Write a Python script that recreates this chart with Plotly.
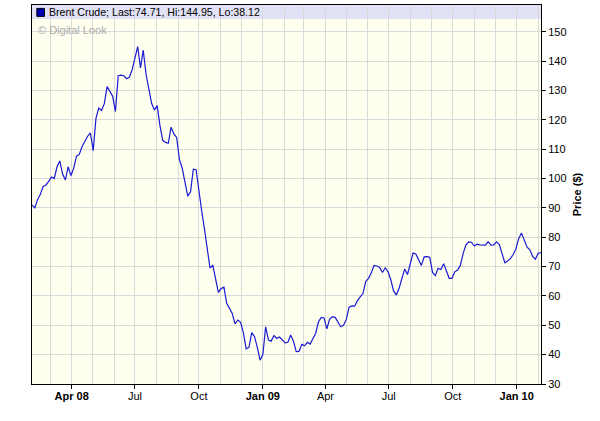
import pandas as pd
import plotly.graph_objects as go

# Brent crude price, sampled every 4 days from 4 Feb 2008
start_date = "2008-02-04"
step = "4D"
prices = [
    91.0, 90.0, 92.8, 94.6, 97.3, 97.8, 99.0, 100.5, 100.0, 104.0,
    106.0, 101.5, 99.5, 104.0, 101.0, 103.5, 107.6, 108.2, 110.9, 112.8,
    114.4, 115.5, 109.5, 120.5, 124.0, 123.2, 125.5, 131.3, 129.5, 128.0,
    122.8, 135.0, 135.2, 135.0, 134.0, 134.5, 137.0, 141.0, 144.9, 137.7,
    143.7, 135.5, 130.0, 125.6, 123.3, 124.8, 118.0, 113.0, 112.3, 112.0,
    117.5, 115.2, 114.0, 106.5, 103.5, 98.3, 94.0, 95.5, 103.2, 103.0,
    95.5, 89.0, 82.8, 76.3, 69.5, 70.5, 66.4, 61.2, 62.5, 63.0,
    57.5, 55.5, 54.0, 50.5, 51.8, 51.0, 47.4, 42.0, 42.5, 47.5,
    46.2, 42.5, 38.1, 40.0, 49.5, 45.0, 44.6, 46.5, 45.5, 46.0,
    44.8, 44.0, 44.2, 46.7, 44.6, 41.0, 41.1, 43.5, 43.0, 44.2,
    43.6, 45.6, 47.3, 51.2, 52.7, 52.5, 48.8, 52.1, 52.9, 52.7,
    51.0, 49.5, 50.0, 52.0, 56.2, 56.6, 56.5, 58.4, 59.7, 60.8,
    65.0, 66.0, 67.9, 70.4, 70.2, 69.7, 68.0, 69.6, 68.2, 65.5,
    61.7, 60.3, 62.7, 65.6, 69.2, 67.3, 71.5, 74.6, 74.3, 72.1,
    70.4, 73.3, 73.4, 73.2, 68.0, 66.9, 69.4, 69.0, 71.0, 68.5,
    66.0, 66.0, 68.2, 68.8, 70.4, 74.4, 77.3, 78.4, 78.3, 77.0,
    77.6, 77.4, 77.4, 77.3, 78.5, 77.3, 77.4, 78.4, 77.5, 74.0,
    71.3, 71.9, 72.7, 74.1, 76.1, 79.6, 81.4, 79.0, 76.6, 75.7,
    73.5, 72.5, 74.6, 74.71,
]
dates = pd.date_range(start_date, periods=len(prices), freq=step)

tick_dates = ["2008-04-01", "2008-07-01", "2008-10-01", "2009-01-01",
              "2009-04-01", "2009-07-01", "2009-10-01", "2010-01-01"]
tick_labels = ["<b>Apr 08</b>", "Jul", "Oct", "<b>Jan 09</b>",
               "Apr", "Jul", "Oct", "<b>Jan 10</b>"]
y_ticks = list(range(30, 160, 10))

series_name = "Brent Crude"
last_v, hi_v, lo_v = "74.71", "144.95", "38.12"

FONT = "Liberation Sans, Arial, sans-serif"
GRID = "#d9d9d9"

fig = go.Figure()
fig.add_trace(go.Scatter(
    x=dates, y=prices, mode="lines",
    line=dict(color="#1a1ad2", width=1.2),
    name=series_name, showlegend=False,
))

fig.update_layout(
    width=600, height=421, autosize=False,
    margin=dict(l=32, r=59, t=5, b=37),
    paper_bgcolor="white", plot_bgcolor="#fffff0",
    font=dict(family=FONT, size=11, color="#000"),
    showlegend=False,
)

fig.update_xaxes(
    type="date",
    range=[dates[0], dates[-1]],
    tickvals=tick_dates, ticktext=tick_labels,
    ticks="outside", ticklen=4, tickcolor="#000",
    ticklabelstandoff=-2,
    showline=True, linecolor="#000", linewidth=1, mirror=True,
    showgrid=True, gridcolor=GRID, gridwidth=1,
    minor=dict(dtick="M1", tick0="2008-01-01", showgrid=True,
               gridcolor=GRID, gridwidth=1, ticks=""),
    tickfont=dict(size=11, color="#000"),
    zeroline=False,
)
fig.update_yaxes(
    side="right",
    range=[30, 159.1],
    tickvals=y_ticks,
    ticks="outside", ticklen=4, tickcolor="#000",
    showline=True, linecolor="#000", linewidth=1, mirror=True,
    showgrid=True, gridcolor=GRID, gridwidth=1,
    tickfont=dict(size=11, color="#000"),
    title=dict(text="<b>Price ($)</b>", font=dict(size=11, color="#000"), standoff=7),
    zeroline=False,
)

# header band inside plot area
fig.add_shape(type="rect", xref="paper", yref="paper",
              x0=0, x1=1, y0=0.963, y1=1,
              fillcolor="#e2e2f6", line=dict(width=0), layer="between")
fig.add_shape(type="rect", xref="paper", yref="paper",
              x0=0.0095, x1=0.0245, y0=0.970, y1=0.991,
              fillcolor="#0000b0", line=dict(color="#000", width=1), layer="above")
fig.add_annotation(
    xref="paper", yref="paper", x=0.029, y=0.9815,
    xanchor="left", yanchor="middle", showarrow=False,
    text=f"{series_name}; Last:{last_v}, Hi:{hi_v}, Lo:{lo_v}",
    font=dict(family=FONT, size=10.6, color="#000"),
)
fig.add_annotation(
    xref="paper", yref="paper", x=0.008, y=0.935,
    xanchor="left", yanchor="middle", showarrow=False,
    text="© Digital Look",
    font=dict(family=FONT, size=11, color="#aaaaaa"),
)

fig.write_html("out.html", config={"displayModeBar": False},
               post_script="document.body.style.margin='0px';")
